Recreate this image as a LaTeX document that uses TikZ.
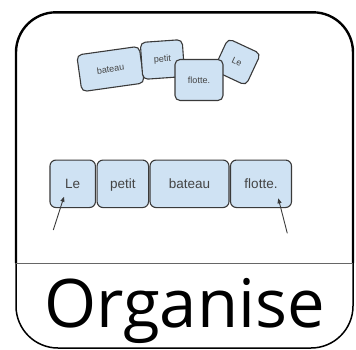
\documentclass[tikz,border=0pt]{standalone}
\usepackage{fontspec}
\setmainfont{Liberation Sans}
\newfontfamily\opensans{Open Sans}
\usetikzlibrary{arrows.meta}
\definecolor{cardfill}{HTML}{CFE2F3}
\definecolor{cardline}{HTML}{3A3A3A}
\definecolor{cardtext}{HTML}{444444}
\begin{document}
\begin{tikzpicture}[x=1pt,y=-1pt,
  card/.style={draw=cardline, fill=cardfill, line width=1.1pt, rounded corners=6pt,
    inner sep=0pt, text=cardtext, font=\fontsize{13.5}{14}\selectfont,
    text height=9.7pt, text depth=0pt},
  smallcard/.style={draw=cardline, fill=cardfill, line width=1.1pt, rounded corners=5pt,
    inner sep=0pt, text=cardtext, font=\fontsize{9}{10}\selectfont},
  pointer/.style={draw=cardline, line width=0.9pt, -{Triangle[length=5pt,width=4pt]}},
  thickframe/.style={line width=2.4pt, rounded corners=40pt},
  thinframe/.style={line width=1.5pt, rounded corners=42pt},
  divider/.style={draw=black!60, line width=1pt}]
\useasboundingbox (0,0) rectangle (356,349);
% frame
\draw[thickframe] (16,263) |- (353,12.3) -- (353,263);
\draw[thinframe] (16,263) |- (353,348) -- (353,263);
\draw[divider] (16,263) -- (353,263);
% scattered cards
\node[smallcard, minimum width=63pt, minimum height=37pt, rotate=8] (sbateau) at (110.5,69) {bateau};
\node[smallcard, minimum width=42pt, minimum height=37pt, rotate=4] (spetit) at (162.5,59.5) {petit};
\node[smallcard, minimum width=36pt, minimum height=35pt, rotate=-25] (sle) at (237,62) {Le};
\node[smallcard, minimum width=48pt, minimum height=41pt] (sflotte) at (199,80) {flotte.};
% ordered row
\node[card, minimum width=45.5pt, minimum height=47.5pt] (le) at (72.7,183.8) {Le};
\node[card, minimum width=51.5pt, minimum height=47.5pt] (petit) at (122.8,183.8) {petit};
\node[card, minimum width=79pt, minimum height=47.5pt] (bateau) at (189.5,183.8) {bateau};
\node[card, minimum width=61pt, minimum height=47.5pt] (flotte) at (261,183.8) {flotte.};
% pointers
\coordinate (s1) at (53.3,230);
\coordinate (t1) at (64,196.7);
\coordinate (s2) at (287.3,233.3);
\coordinate (t2) at (278.3,198.3);
\draw[pointer] (s1) -- (t1);
\draw[pointer] (s2) -- (t2);
% label
\node[anchor=base, inner sep=0pt, font=\opensans\fontsize{67}{70}\selectfont] (label) at (184.5,327) {Organise};
\end{tikzpicture}
\end{document}
